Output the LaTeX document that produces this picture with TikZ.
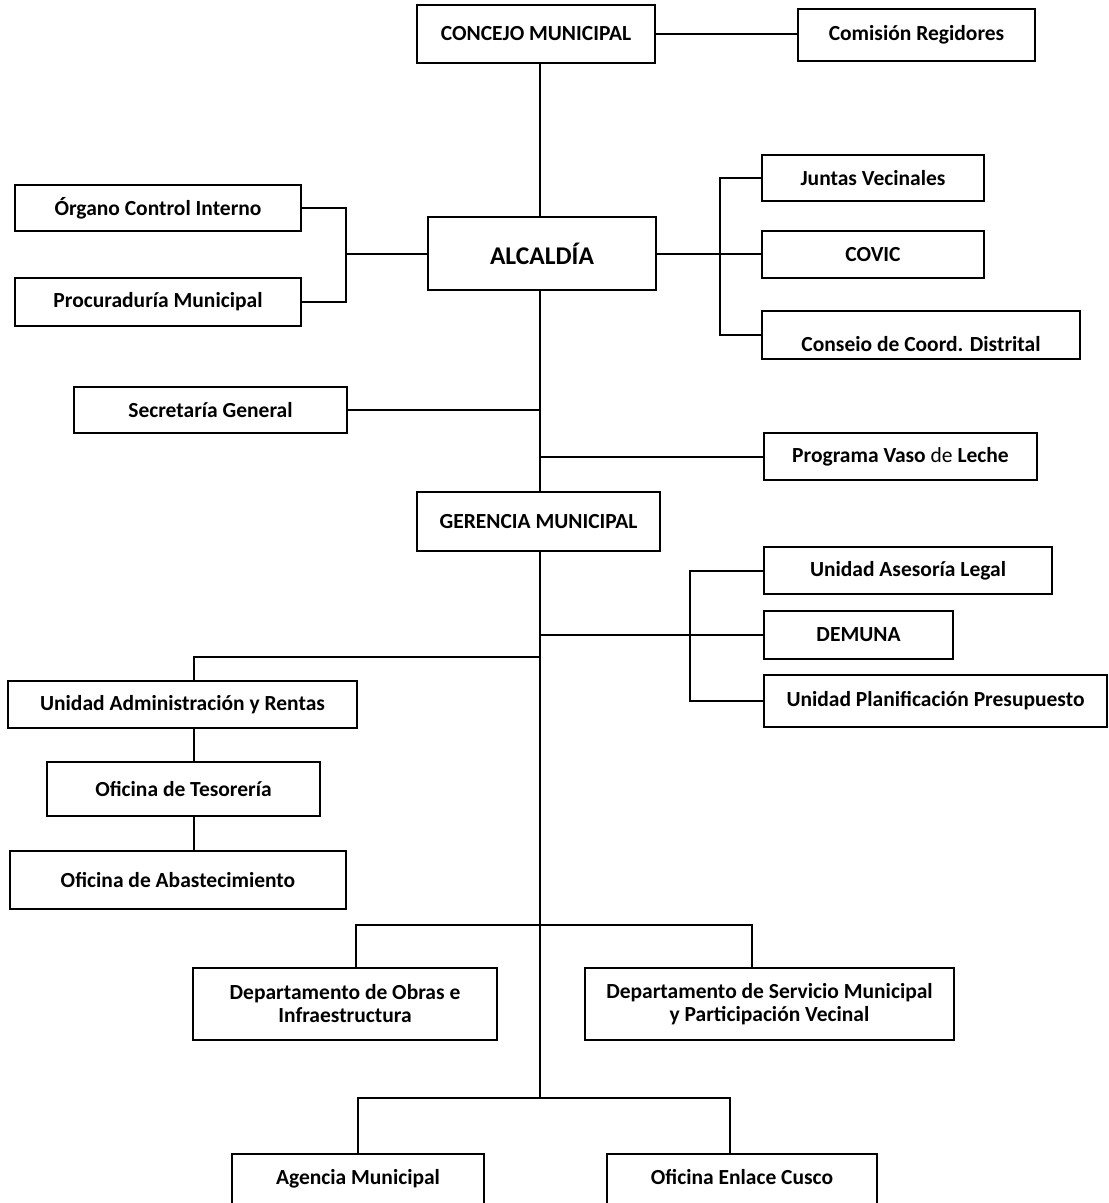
\documentclass[tikz,border=0pt]{standalone}
\usepackage{fontspec}
\setmainfont{Carlito}
\begin{document}
\begin{tikzpicture}[x=1pt,y=-1pt,
  box/.style={draw=black, line width=1.2pt, fill=white, inner sep=0pt, align=center,
    font=\fontsize{21.5}{23}\selectfont\bfseries},
  conn/.style={draw=black, line width=2pt}]
\useasboundingbox (0,0) rectangle (1109,1203);
\clip (0,0) rectangle (1109,1203);
% nodes
\node[box, minimum width=238, minimum height=58] (concejo) at (536,34) {CONCEJO MUNICIPAL};
\node[box, minimum width=237, minimum height=52] (comision) at (916.5,35) {Comisión Regidores};
\node[box, minimum width=286, minimum height=46] (organo) at (158,208) {Órgano Control Interno};
\node[box, minimum width=228, minimum height=73] (alcaldia) at (542,253.5) {\fontsize{25.5}{28}\selectfont ALCALDÍA};
\node[box, minimum width=286, minimum height=48] (procuraduria) at (158,302) {Procuraduría Municipal};
\node[box, minimum width=222, minimum height=46] (juntas) at (873,178) {Juntas Vecinales};
\node[box, minimum width=222, minimum height=47] (covic) at (873,254.5) {COVIC};
\node[box, minimum width=318, minimum height=48, text height=40pt, text depth=8pt] (conseio) at (921,335) {Conseio de Coord. Distrital};
\node[box, minimum width=273, minimum height=46] (secretaria) at (210.5,410) {Secretaría General};
\node[box, minimum width=273, minimum height=47] (programa) at (900.5,456.5) {Programa Vaso {\mdseries de} Leche};
\node[box, minimum width=243, minimum height=59] (gerencia) at (538.5,521.5) {GERENCIA MUNICIPAL};
\node[box, minimum width=288, minimum height=47] (asesoria) at (908,570.5) {Unidad Asesoría Legal};
\node[box, minimum width=189, minimum height=48] (demuna) at (858.5,635) {DEMUNA};
\node[box, minimum width=343, minimum height=52] (planif) at (935.5,701) {Unidad Planificación Presupuesto};
\node[box, minimum width=349, minimum height=47] (admin) at (182.5,704.5) {Unidad Administración y Rentas};
\node[box, minimum width=273, minimum height=54] (tesoreria) at (183.5,789) {Oficina de Tesorería};
\node[box, minimum width=336, minimum height=58] (abast) at (178,880) {Oficina de Abastecimiento};
\node[box, minimum width=304, minimum height=72] (obras) at (345,1004) {Departamento de Obras e\\Infraestructura};
\node[box, minimum width=369, minimum height=72] (servicio) at (769.5,1004) {Departamento de Servicio Municipal\\y Participación Vecinal};
\node[box, minimum width=252, minimum height=60, text height=30pt, text depth=30pt] (agencia) at (358,1184) {Agencia Municipal};
\node[box, minimum width=270, minimum height=60, text height=30pt, text depth=30pt] (enlace) at (742,1184) {Oficina Enlace Cusco};
% helper coordinates
\coordinate (vx) at (540,0);
\coordinate (bxL) at (346,254);
\coordinate (bxR) at (720,254);
\coordinate (bxG) at (690,635);
\coordinate (gA) at (540,657);
\coordinate (ax) at (194,0);
\coordinate (d1) at (356,925);
\coordinate (d2) at (752,925);
\coordinate (b1) at (358,1098);
\coordinate (b2) at (730,1098);
\coordinate (vb) at (540,1098);
% connectors
\draw[conn] (concejo.south -| vx) -- (alcaldia.north -| vx);
\draw[conn] (concejo.east) -- (concejo.east -| comision.west);
\draw[conn] (organo.east) -| (bxL) |- (procuraduria.east);
\draw[conn] (alcaldia.west) -- (alcaldia.west -| bxL);
\draw[conn] (juntas.west) -| (bxR) |- (conseio.west);
\draw[conn] (alcaldia.east) -- (alcaldia.east -| covic.west);
\draw[conn] (alcaldia.south -| vx) -- (gerencia.north -| vx);
\draw[conn] (secretaria.east) -- (secretaria.east -| vx);
\draw[conn] (programa.west) -- (programa.west -| vx);
\draw[conn] (gerencia.south -| vx) -- (vb);
\draw[conn] (asesoria.west) -| (bxG) |- (planif.west);
\draw[conn] (demuna.west -| vx) -- (demuna.west);
\draw[conn] (gA) -| (admin.north -| ax);
\draw[conn] (admin.south -| ax) -- (tesoreria.north -| ax);
\draw[conn] (tesoreria.south -| ax) -- (abast.north -| ax);
\draw[conn] (obras.north -| d1) -- (d1) -- (d2) -- (servicio.north -| d2);
\draw[conn] (agencia.north -| b1) -- (b1) -- (b2) -- (enlace.north -| b2);
\end{tikzpicture}
\end{document}
